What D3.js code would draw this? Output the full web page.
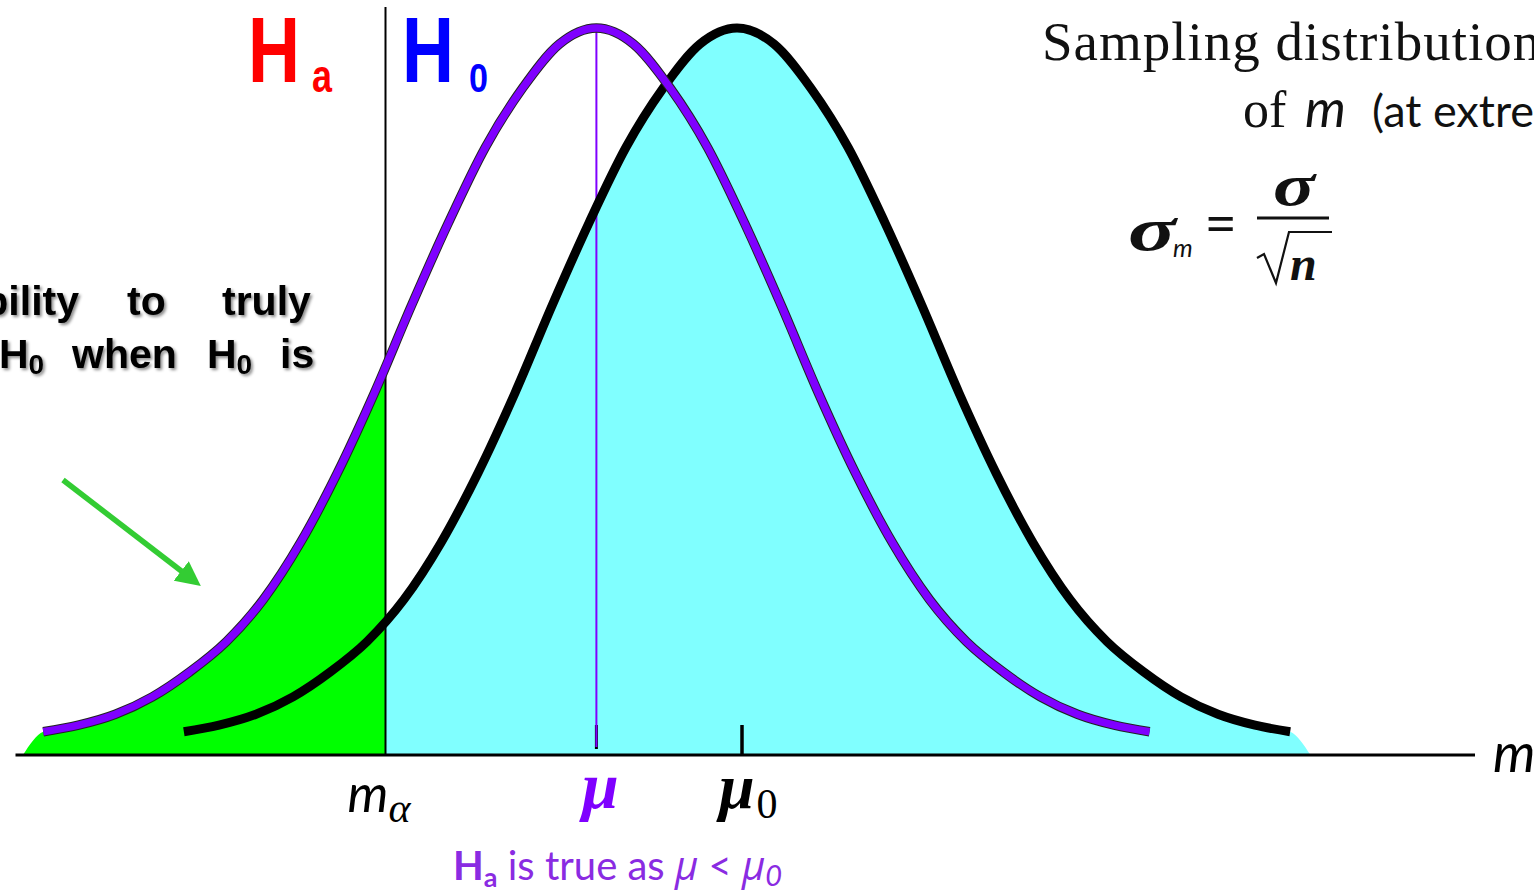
<!DOCTYPE html>
<html lang="en">
<head>
    <meta charset="utf-8" />
    <title>Sampling distribution of m</title>
    <script src="https://d3js.org/d3.v7.min.js"></script>
    <style>
        body { margin: 0; background: #fff; }
        svg { display: block; }
    </style>
</head>
<body>
    <svg></svg>
    <script>

        let width = 1534, height = 893;

        // shape of both sampling curves:
        // distance from the mean (in sigma_m) and relative height
        var shapeOffsets = [0, 0.2, 0.4, 0.6, 0.8, 1.0, 1.2, 1.4, 1.6, 1.8, 2.0, 2.2, 2.4, 2.6, 2.8, 2.99];
        var shapeHeights = [1.0, 0.978, 0.917, 0.836, 0.732, 0.618, 0.498, 0.388, 0.292, 0.214, 0.156, 0.114, 0.080, 0.056, 0.041, 0.032];
        var tailOffset = 3.1;   // where the shaded areas reach the axis

        var mu0 = 0, mu = -0.76, mAlpha = -1.90;
        var xDomain = [-3.9, 4.0];

        var purple = "#7f00ff";

        let svg = d3.select("svg")
            .attr("width", width)
            .attr("height", height)
            .attr("viewBox", "0 0 " + width + " " + height);

        var x = d3.scaleLinear().domain(xDomain).range([15.5, 1477]);
        var y = d3.scaleLinear().domain([0, 1]).range([755, 28]);

        function curvePoints(mean, withTail) {
            var pts = [];
            for (var i = shapeOffsets.length - 1; i > 0; i--) pts.push([mean - shapeOffsets[i], shapeHeights[i]]);
            for (var j = 0; j < shapeOffsets.length; j++) pts.push([mean + shapeOffsets[j], shapeHeights[j]]);
            if (withTail) {
                pts.unshift([mean - tailOffset, 0]);
                pts.push([mean + tailOffset, 0]);
            }
            return pts;
        }

        var line = d3.line()
            .x(d => x(d[0])).y(d => y(d[1]))
            .curve(d3.curveMonotoneX);

        var area = d3.area()
            .x(d => x(d[0])).y0(y(0)).y1(d => y(d[1]))
            .curve(d3.curveMonotoneX);

        var defs = svg.append("defs");
        defs.append("clipPath").attr("id", "leftOfAlpha")
            .append("rect").attr("x", 0).attr("y", 0)
            .attr("width", x(mAlpha)).attr("height", height);
        defs.append("clipPath").attr("id", "rightOfAlpha")
            .append("rect").attr("x", x(mAlpha)).attr("y", 0)
            .attr("width", width - x(mAlpha)).attr("height", height);

        var shadow = defs.append("filter").attr("id", "shadow")
            .attr("x", "-10%").attr("y", "-20%").attr("width", "130%").attr("height", "160%");
        shadow.append("feDropShadow")
            .attr("dx", 2).attr("dy", 2).attr("stdDeviation", 1.5)
            .attr("flood-color", "#000").attr("flood-opacity", 0.45);

        defs.append("marker").attr("id", "arrowHead")
            .attr("viewBox", "0 0 10 10").attr("refX", 6).attr("refY", 5)
            .attr("markerWidth", 4.5).attr("markerHeight", 4.5)
            .attr("orient", "auto")
            .append("path").attr("d", "M0,0 L10,5 L0,10 Z").attr("fill", "#33cc33");

        // shaded areas
        svg.append("path")
            .attr("d", area(curvePoints(mu, true)))
            .attr("fill", "#00ff00")
            .attr("clip-path", "url(#leftOfAlpha)");

        svg.append("path")
            .attr("d", area(curvePoints(mu0, true)))
            .attr("fill", "#80ffff")
            .attr("clip-path", "url(#rightOfAlpha)");

        // axis line
        svg.append("line")
            .attr("x1", x(xDomain[0])).attr("x2", x(xDomain[1]) - 2)
            .attr("y1", y(0)).attr("y2", y(0))
            .attr("stroke", "#000").attr("stroke-width", 3);

        // ticks at mu and mu0
        svg.append("line")
            .attr("x1", x(mu)).attr("x2", x(mu))
            .attr("y1", y(0) - 30).attr("y2", y(0) - 6)
            .attr("stroke", "#000").attr("stroke-width", 3);
        svg.append("line")
            .attr("x1", x(mu0) + 5).attr("x2", x(mu0) + 5)
            .attr("y1", y(0) - 30).attr("y2", y(0))
            .attr("stroke", "#000").attr("stroke-width", 3.5);

        // critical value line
        svg.append("line")
            .attr("x1", x(mAlpha)).attr("x2", x(mAlpha))
            .attr("y1", 7).attr("y2", y(0))
            .attr("stroke", "#000").attr("stroke-width", 2);

        // mean of Ha
        svg.append("line")
            .attr("x1", x(mu)).attr("x2", x(mu))
            .attr("y1", y(1)).attr("y2", y(0) - 8)
            .attr("stroke", purple).attr("stroke-width", 2);

        // curves
        svg.append("path")
            .attr("d", line(curvePoints(mu0, false)))
            .attr("fill", "none").attr("stroke", "#000").attr("stroke-width", 9);

        svg.append("path")
            .attr("d", line(curvePoints(mu, false)))
            .attr("fill", "none").attr("stroke", "#222").attr("stroke-width", 9.5);
        svg.append("path")
            .attr("d", line(curvePoints(mu, false)))
            .attr("fill", "none").attr("stroke", purple).attr("stroke-width", 7.5);

        // axis labels
        svg.append("text")
            .attr("x", 1493).attr("y", 772)
            .style("font-family", "Lato, 'Open Sans', sans-serif").style("font-style", "italic")
            .style("font-size", "54px").attr("fill", "#000")
            .text("m");

        var ma = svg.append("text")
            .attr("x", x(mAlpha) - 38).attr("y", 812)
            .attr("fill", "#000");
        ma.append("tspan").text("m")
            .style("font-family", "Lato, 'Open Sans', sans-serif").style("font-style", "italic").style("font-size", "52px");
        ma.append("tspan").text("α").attr("dy", 10)
            .style("font-family", "'Liberation Serif', serif").style("font-style", "italic").style("font-size", "42px");

        svg.append("text")
            .attr("x", x(mu) + 4).attr("y", 808)
            .attr("text-anchor", "middle")
            .style("font-family", "'Liberation Serif', serif").style("font-style", "italic")
            .style("font-weight", "bold").style("font-size", "66px")
            .attr("fill", purple)
            .text("μ");

        var m0 = svg.append("text")
            .attr("x", x(mu0) - 18).attr("y", 808).attr("fill", "#000");
        m0.append("tspan").text("μ")
            .style("font-family", "'Liberation Serif', serif").style("font-style", "italic")
            .style("font-weight", "bold").style("font-size", "64px");
        m0.append("tspan").text("0").attr("dy", 10).attr("dx", 2)
            .style("font-family", "'Liberation Serif', serif").style("font-size", "42px");

        // caption under axis
        var cap = svg.append("text")
            .attr("x", 453).attr("y", 880)
            .attr("fill", "#8a2be2")
            .style("font-family", "Lato, 'Open Sans', sans-serif").style("font-size", "40px");
        cap.append("tspan").text("H").style("font-weight", "bold");
        cap.append("tspan").text("a").style("font-weight", "bold").style("font-size", "27px").attr("dy", 7);
        cap.append("tspan").text(" is true as ").attr("dy", -7);
        cap.append("tspan").text("μ").style("font-style", "italic").style("font-family", "'Open Sans', sans-serif");
        cap.append("tspan").text(" < ");
        cap.append("tspan").text("μ").style("font-style", "italic").style("font-family", "'Open Sans', sans-serif");
        cap.append("tspan").text("0").style("font-style", "italic").style("font-size", "29px").attr("dy", 6);

        // Ha / H0 headings (narrow, tall letters)
        function heading(px, py, w, size, txt, col) {
            svg.append("text")
                .attr("x", px).attr("y", py)
                .attr("textLength", w).attr("lengthAdjust", "spacingAndGlyphs")
                .style("font-family", "'Liberation Sans', Arial, sans-serif")
                .style("font-weight", "bold").style("font-size", size + "px")
                .attr("fill", col).text(txt);
        }
        heading(248, 82, 52, 92, "H", "#ff0000");
        heading(312, 92, 20, 46, "a", "#ff0000");
        heading(402, 82, 52, 92, "H", "#0000ff");
        heading(469, 92, 19, 40, "0", "#0000ff");

        // left note (cut at the page edge)
        var note = svg.append("g")
            .style("font-family", "'Liberation Sans', Arial, sans-serif")
            .style("font-weight", "bold").style("font-size", "41px")
            .attr("fill", "#000")
            .attr("filter", "url(#shadow)");

        note.append("text").attr("x", 79).attr("y", 315).attr("text-anchor", "end").text("probability");
        note.append("text").attr("x", 127).attr("y", 315).text("to");
        note.append("text").attr("x", 222).attr("y", 315).text("truly");

        function hZero(px) {
            var t = note.append("text").attr("x", px).attr("y", 368);
            t.append("tspan").text("H");
            t.append("tspan").text("0").style("font-size", "28px").attr("dy", 6);
        }
        hZero(-1);
        note.append("text").attr("x", 72).attr("y", 368).text("when");
        hZero(207);
        note.append("text").attr("x", 280).attr("y", 368).text("is");

        // arrow
        svg.append("line")
            .attr("x1", 63).attr("y1", 480).attr("x2", 193).attr("y2", 580)
            .attr("stroke", "#33cc33").attr("stroke-width", 5.5)
            .attr("marker-end", "url(#arrowHead)");

        // top right description
        svg.append("text")
            .attr("x", 1042).attr("y", 60)
            .style("font-family", "'Liberation Serif', 'Times New Roman', serif")
            .style("font-size", "55px").style("letter-spacing", "1px")
            .attr("fill", "#111")
            .text("Sampling distribution");

        var of = svg.append("text").attr("x", 1243).attr("y", 127).attr("fill", "#111");
        of.append("tspan").text("of ")
            .style("font-family", "'Liberation Serif', serif").style("font-size", "52px");
        of.append("tspan").text("m").attr("x", 1305)
            .style("font-family", "Lato, 'Open Sans', sans-serif").style("font-style", "italic").style("font-size", "52px");
        of.append("tspan").text("(at extreme").attr("x", 1372)
            .style("font-family", "Lato, 'Open Sans', sans-serif").style("font-size", "45px");

        // sigma_m = sigma / sqrt(n)
        var f = svg.append("g").attr("fill", "#111")
            .style("font-family", "'Liberation Serif', serif");
        f.append("text").attr("x", 1128).attr("y", 250)
            .attr("textLength", 48).attr("lengthAdjust", "spacingAndGlyphs")
            .style("font-style", "italic").style("font-weight", "bold").style("font-size", "62px").text("σ");
        f.append("text").attr("x", 1173).attr("y", 257)
            .style("font-family", "Lato, sans-serif").style("font-style", "italic").style("font-size", "25px").text("m");
        f.append("text").attr("x", 1206).attr("y", 241)
            .style("font-weight", "bold").style("font-size", "52px").text("=");
        f.append("text").attr("x", 1273).attr("y", 205)
            .attr("textLength", 42).attr("lengthAdjust", "spacingAndGlyphs")
            .style("font-style", "italic").style("font-weight", "bold").style("font-size", "60px").text("σ");
        f.append("line").attr("x1", 1257).attr("x2", 1329).attr("y1", 218).attr("y2", 218)
            .attr("stroke", "#111").attr("stroke-width", 3);
        f.append("path").attr("d", "M1257,258 L1264,254 L1276,283 L1289,232 L1332,232")
            .attr("fill", "none").attr("stroke", "#111").attr("stroke-width", 2.2)
            .attr("stroke-linejoin", "miter");
        f.append("text").attr("x", 1290).attr("y", 280)
            .style("font-style", "italic").style("font-weight", "bold").style("font-size", "48px").text("n");

    </script>
</body>
</html>
